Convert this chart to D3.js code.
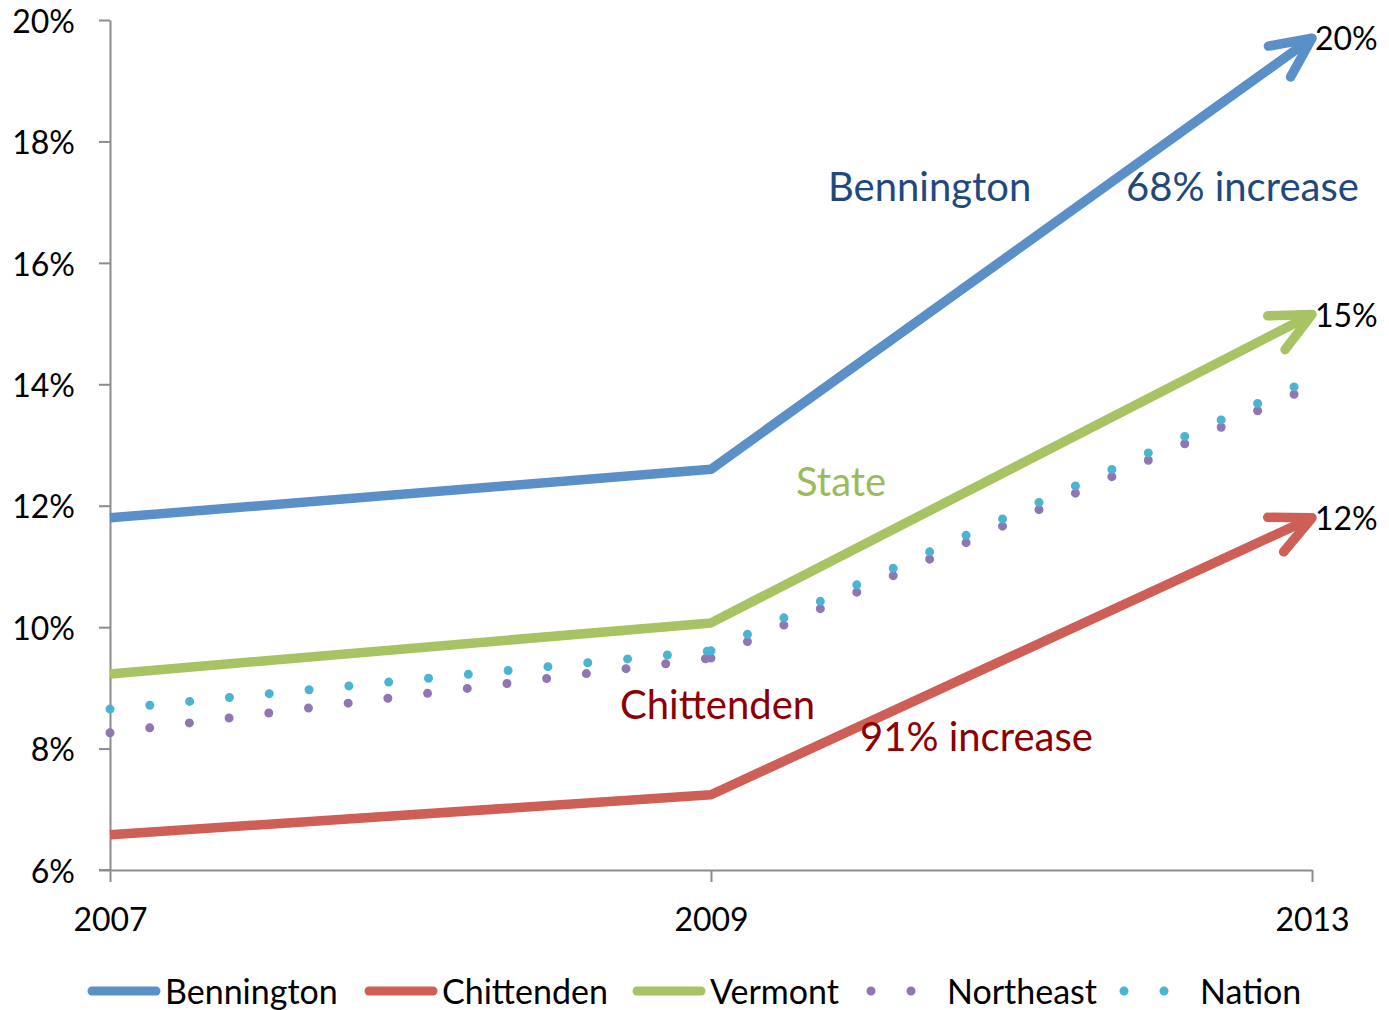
<!DOCTYPE html>
<html>
<head>
<meta charset="utf-8">
<title>Unemployment rate</title>
<script src="https://d3js.org/d3.v7.min.js"></script>
<style>
    body { margin: 0; background: #fff; }
    svg { display: block; font-family: Lato, "Open Sans", sans-serif; }
</style>
</head>
<body>
<svg id="chart"></svg>
<script>
    // data (percent)
    const years = ["2007", "2009", "2013"];
    const bennington = [11.8, 12.6, 19.7];
    const chittenden = [6.58, 7.24, 11.8];
    const vermont = [9.23, 10.07, 15.15];
    const northeast = [8.26, 9.49, 13.97];
    const nation = [8.65, 9.61, 14.09];
    const yTicks = [6, 8, 10, 12, 14, 16, 18, 20];
    const endLabels = { Bennington: "20%", Chittenden: "12%", Vermont: "15%" };

    const width = 1389;
    const height = 1010;
    const gray = "#8c8c8c";

    const series = [
        { name: "Bennington", values: bennington, color: "#5a8fc8", dotted: false },
        { name: "Chittenden", values: chittenden, color: "#cd5f57", dotted: false },
        { name: "Vermont", values: vermont, color: "#a7c364", dotted: false },
        { name: "Northeast", values: northeast, color: "#9176b2", dotted: true },
        { name: "Nation", values: nation, color: "#4bb4d0", dotted: true }
    ];

    const svg = d3.select("#chart")
        .attr("width", width)
        .attr("height", height);

    const x = d3.scalePoint().domain(years).range([110, 1312]);
    const y = d3.scaleLinear().domain([6, 20]).range([870, 20]);

    // arrow heads
    const defs = svg.append("defs");
    series.filter(s => !s.dotted).forEach(s => {
        defs.append("marker")
            .attr("id", "arrow-" + s.name)
            .attr("markerUnits", "userSpaceOnUse")
            .attr("viewBox", "-60 -30 70 60")
            .attr("markerWidth", 70)
            .attr("markerHeight", 60)
            .attr("refX", 0)
            .attr("refY", 0)
            .attr("orient", "auto")
            .style("overflow", "visible")
            .append("path")
            .attr("d", "M-40,-19L0,0L-40,19")
            .attr("fill", "none")
            .attr("stroke", s.color)
            .attr("stroke-width", 9.5)
            .attr("stroke-linecap", "round")
            .attr("stroke-linejoin", "round");
    });

    // axes
    const yAxis = svg.append("g")
        .attr("transform", "translate(110,0)")
        .call(d3.axisLeft(y).tickValues(yTicks).tickFormat(d => d + "%").tickSize(11).tickSizeOuter(0).tickPadding(24));

    const xAxis = svg.append("g")
        .attr("transform", "translate(0,870)")
        .call(d3.axisBottom(x).tickSize(12).tickSizeOuter(0).tickPadding(26));

    [yAxis, xAxis].forEach(a => {
        a.attr("font-family", null).attr("font-size", 32);
        a.select(".domain").attr("stroke", gray).attr("stroke-width", 2);
        a.selectAll(".tick line").attr("stroke", gray).attr("stroke-width", 2);
        a.selectAll(".tick text").attr("fill", "#000");
    });
    yAxis.selectAll(".tick text").attr("dy", "0.38em");
    // x axis line reaches the 6% tick
    xAxis.append("line").attr("x1", 99).attr("x2", 110).attr("stroke", gray).attr("stroke-width", 2);

    const line = d3.line()
        .x((d, i) => x(years[i]))
        .y(d => y(d));

    // lines
    const plot = svg.append("g");
    series.forEach(s => {
        if (s.dotted) {
            // excel restarts the dot pattern on every segment
            for (let i = 0; i < s.values.length - 1; i++) {
                plot.append("path")
                    .attr("d", `M${x(years[i])},${y(s.values[i])}L${x(years[i + 1])},${y(s.values[i + 1])}`)
                    .attr("fill", "none")
                    .attr("stroke", s.color)
                    .attr("stroke-width", 9)
                    .attr("stroke-linecap", "round")
                    .attr("stroke-dasharray", "0 40");
            }
        } else {
            plot.append("path")
                .datum(s.values)
                .attr("d", line)
                .attr("fill", "none")
                .attr("stroke", s.color)
                .attr("stroke-width", 9.5)
                .attr("stroke-linejoin", "round")
                .attr("marker-end", `url(#arrow-${s.name})`);

            const last = s.values.length - 1;
            plot.append("text")
                .attr("x", x(years[last]) + 3)
                .attr("y", y(s.values[last]))
                .attr("dy", "0.38em")
                .attr("font-size", 32)
                .attr("fill", "#000")
                .text(endLabels[s.name]);
        }
    });

    // annotations
    const notes = [
        { text: "Bennington", x: 828, y: 201, color: "#1f497d" },
        { text: "68% increase", x: 1126, y: 201, color: "#1f497d" },
        { text: "State", x: 796, y: 496, color: "#9bbb59" },
        { text: "Chittenden", x: 620, y: 719, color: "#8b0000" },
        { text: "91% increase", x: 860, y: 751, color: "#8b0000" }
    ];
    svg.append("g").selectAll("text")
        .data(notes)
        .enter().append("text")
        .attr("x", d => d.x)
        .attr("y", d => d.y)
        .attr("font-size", 40)
        .attr("fill", d => d.color)
        .text(d => d.text);

    // legend
    const legendX = [88, 365, 633, 867, 1120];
    const legend = svg.append("g");
    series.forEach((s, i) => {
        const lx = legendX[i];
        if (s.dotted) {
            legend.append("line")
                .attr("x1", lx + 4).attr("x2", lx + 76)
                .attr("y1", 991).attr("y2", 991)
                .attr("stroke", s.color)
                .attr("stroke-width", 9)
                .attr("stroke-linecap", "round")
                .attr("stroke-dasharray", "0 40");
        } else {
            legend.append("line")
                .attr("x1", lx + 4).attr("x2", lx + 68)
                .attr("y1", 991).attr("y2", 991)
                .attr("stroke", s.color)
                .attr("stroke-width", 9)
                .attr("stroke-linecap", "round");
        }
        legend.append("text")
            .attr("x", s.dotted ? lx + 80 : lx + 77)
            .attr("y", 1004)
            .attr("font-size", 34)
            .attr("fill", "#000")
            .text(s.name);
    });
</script>
</body>
</html>
